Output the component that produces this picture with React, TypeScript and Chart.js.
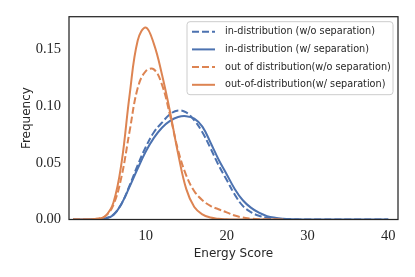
import React, { useEffect, useRef } from 'react';
import { Chart, registerables } from 'chart.js';

Chart.register(...registerables);

// Energy score grid (x values)
const X_VALUES = [1, 2, 3, 4, 5, 6, 7, 8, 9, 10, 11, 12, 13, 14, 15, 16, 17, 18, 19, 20,
  21, 22, 23, 24, 25, 26, 27, 28, 29, 30, 31, 32, 33, 34, 35, 36, 37, 38, 39, 40];

// in-distribution (w/o separation)
const ID_NO_SEP = [0, 0, 0.0001, 0.0003, 0.001, 0.0045, 0.014, 0.030, 0.048, 0.064,
  0.077, 0.0855, 0.093, 0.0963, 0.0945, 0.0875, 0.077, 0.063, 0.048, 0.035,
  0.022, 0.012, 0.0065, 0.0033, 0.0016, 0.0007, 0.0003, 0.0001, 0, 0,
  0, 0, 0, 0, 0, 0, 0, 0, 0, 0];

// in-distribution (w/ separation)
const ID_SEP = [0, 0, 0.0001, 0.0003, 0.0008, 0.004, 0.014, 0.029, 0.045, 0.060,
  0.072, 0.081, 0.087, 0.0905, 0.0912, 0.089, 0.082, 0.068, 0.053, 0.040,
  0.027, 0.017, 0.0105, 0.006, 0.003, 0.0015, 0.0007, 0.0003, 0.0001, 0,
  0, 0, 0, 0, 0, 0, 0, 0, 0, 0];

// out of distribution (w/o separation)
const OOD_NO_SEP = [0, 0, 0.0001, 0.0006, 0.003, 0.013, 0.038, 0.078, 0.116, 0.131,
  0.1325, 0.119, 0.092, 0.061, 0.039, 0.025, 0.017, 0.012, 0.009, 0.0063,
  0.0035, 0.0017, 0.0008, 0.0003, 0.0001, 0, 0];

// out-of-distribution (w/ separation)
const OOD_SEP = [0, 0, 0.0001, 0.0006, 0.003, 0.015, 0.05, 0.11, 0.158, 0.1695,
  0.155, 0.128, 0.095, 0.058, 0.027, 0.011, 0.0045, 0.0017, 0.0006, 0.0002,
  0, 0, 0, 0, 0, 0, 0];

const SERIES_LABELS = [
  'in-distribution (w/o separation)',
  'in-distribution (w/ separation)',
  'out of distribution(w/o separation)',
  'out-of-distribution(w/ separation)',
];

const X_TICKS = [10, 20, 30, 40];
const Y_TICKS = [0, 0.05, 0.1, 0.15];

const BLUE = '#4C72B0';
const ORANGE = '#DD8452';
const INK = '#262626';

export default function App() {
  const ref = useRef<HTMLCanvasElement>(null);

  useEffect(() => {
    document.body.style.margin = '0';
    const pts = (vals: number[]) => vals.map((v, i) => ({ x: X_VALUES[i], y: v }));

    const seriesValues = [ID_NO_SEP, ID_SEP, OOD_NO_SEP, OOD_SEP];
    const colors = [BLUE, BLUE, ORANGE, ORANGE];
    const dashed = [true, false, true, false];
    const orders = [4, 3, 2, 1];

    const datasets = seriesValues.map((vals, i) => ({
      label: SERIES_LABELS[i],
      data: pts(vals),
      borderColor: colors[i],
      backgroundColor: colors[i],
      borderWidth: 2,
      borderDash: dashed[i] ? [7, 3] : [],
      pointRadius: 0,
      fill: false,
      tension: 0.4,
      order: orders[i],
    }));

    const framePlugin = {
      id: 'frame',
      afterDatasetsDraw(chart: any) {
        const { ctx, chartArea: a } = chart;
        ctx.save();
        ctx.strokeStyle = INK;
        ctx.lineWidth = 1.25;
        ctx.strokeRect(a.left, a.top, a.right - a.left, a.bottom - a.top);
        ctx.restore();
      },
    };

    const legendPlugin = {
      id: 'boxLegend',
      afterDraw(chart: any) {
        const { ctx, chartArea: a } = chart;
        const boxRight = a.right - 5;
        const boxLeft = boxRight - 206;
        const boxTop = a.top + 5;
        const boxH = 73;
        ctx.save();
        ctx.beginPath();
        const r = 3;
        const w = boxRight - boxLeft;
        ctx.moveTo(boxLeft + r, boxTop);
        ctx.arcTo(boxRight, boxTop, boxRight, boxTop + boxH, r);
        ctx.arcTo(boxRight, boxTop + boxH, boxLeft, boxTop + boxH, r);
        ctx.arcTo(boxLeft, boxTop + boxH, boxLeft, boxTop, r);
        ctx.arcTo(boxLeft, boxTop, boxLeft + w, boxTop, r);
        ctx.closePath();
        ctx.fillStyle = 'rgba(255,255,255,0.8)';
        ctx.fill();
        ctx.strokeStyle = '#cccccc';
        ctx.lineWidth = 1;
        ctx.stroke();

        ctx.font = '9.7px "DejaVu Sans"';
        ctx.textBaseline = 'middle';
        ctx.textAlign = 'left';
        chart.data.datasets.forEach((ds: any, i: number) => {
          const y = boxTop + 10 + i * 17.7;
          ctx.beginPath();
          ctx.strokeStyle = ds.borderColor;
          ctx.lineWidth = 2;
          ctx.setLineDash(ds.borderDash || []);
          ctx.moveTo(boxLeft + 5, y);
          ctx.lineTo(boxLeft + 28, y);
          ctx.stroke();
          ctx.setLineDash([]);
          ctx.fillStyle = INK;
          ctx.fillText(ds.label, boxLeft + 38, y);
        });
        ctx.restore();
      },
    };

    const chart = new Chart(ref.current as HTMLCanvasElement, {
      type: 'line',
      data: { datasets },
      options: {
        animation: false,
        responsive: false,
        layout: { padding: { top: 16, right: 17, left: 0, bottom: 0 } },
        plugins: { legend: { display: false }, tooltip: { enabled: false } },
        scales: {
          x: {
            type: 'linear',
            min: 0.5,
            max: 41.2,
            afterBuildTicks: (s: any) => { s.ticks = X_TICKS.map((v) => ({ value: v })); },
            afterFit: (s: any) => { s.height = 57.5; },
            grid: { display: false, drawTicks: false },
            border: { display: false },
            ticks: {
              font: { family: '"Liberation Serif"', size: 14.5 },
              color: INK,
              padding: 8,
              maxRotation: 0,
              callback: (v: any) => String(v),
            },
            title: {
              display: true,
              text: 'Energy Score',
              font: { family: '"DejaVu Sans"', size: 12 },
              color: INK,
              padding: { top: 0, bottom: 16 },
            },
          },
          y: {
            type: 'linear',
            min: 0,
            max: 0.179,
            afterBuildTicks: (s: any) => { s.ticks = Y_TICKS.map((v) => ({ value: v })); },
            afterFit: (s: any) => { s.width = 69; },
            grid: { display: false, drawTicks: false },
            border: { display: false },
            ticks: {
              font: { family: '"Liberation Serif"', size: 14.5 },
              color: INK,
              padding: 8,
              callback: (v: any) => Number(v).toFixed(2),
            },
            title: {
              display: true,
              text: 'Frequency',
              font: { family: '"DejaVu Sans"', size: 12 },
              color: INK,
              padding: { top: 20, bottom: 0 },
            },
          },
        },
      },
      plugins: [framePlugin, legendPlugin],
    });

    return () => chart.destroy();
  }, []);

  return (
    <div style={{ width: 415, height: 277 }}>
      <canvas ref={ref} width={415} height={277} style={{ display: 'block' }} />
    </div>
  );
}
